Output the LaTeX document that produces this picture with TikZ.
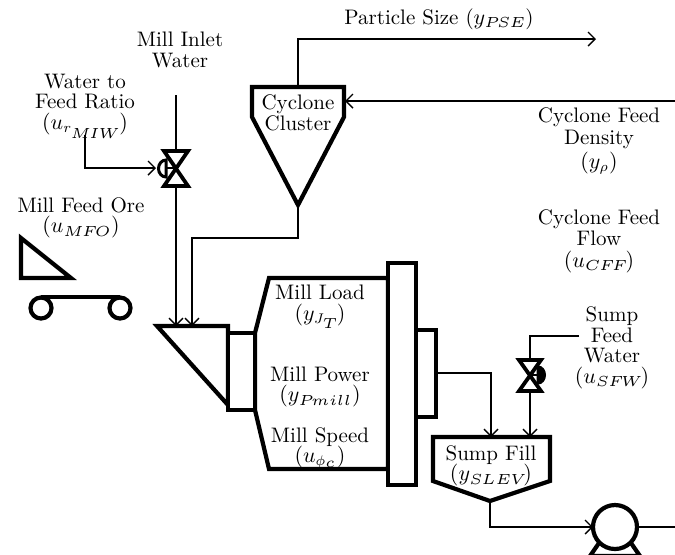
\documentclass[tikz,border=0pt]{standalone}
\usetikzlibrary{arrows.meta}
\font\subwide=cmmi5 at 7.3pt
\newcommand{\wsub}[1]{\hbox{\subwide #1}}
\tikzset{
  unit/.style={line width=2.1pt,line join=miter,fill=white},
  pipe/.style={line width=0.9pt},
  flow/.style={pipe,-{Straight Barb[length=3.5pt,width=7pt,line width=0.7pt]}},
  lab/.style={align=center,inner sep=0pt,font=\fontsize{10.5}{10.3}\selectfont}
}
\begin{document}
\begin{tikzpicture}[x=0.5pt,y=-0.5pt]
\useasboundingbox (0,0) rectangle (675,554);
\clip (0,0) rectangle (675,554);
% named points
\coordinate (cycTop) at (298,87);
\coordinate (cycTip) at (298,205);
\coordinate (cycFeed) at (345,101);
\coordinate (psEnd) at (596,39);
\coordinate (feedStart) at (675,101);
\coordinate (hopA) at (176,326);
\coordinate (hopB) at (192,326);
\coordinate (inlet) at (176,95);
\coordinate (v1) at (176,168);
\coordinate (v1act) at (156,168);
\coordinate (ratio) at (85,135);
\coordinate (v2) at (530,375);
\coordinate (sfw) at (579,336);
\coordinate (sumpA) at (491,437);
\coordinate (sumpB) at (530,437);
\coordinate (sumpTip) at (490,501);
\coordinate (drum) at (436,373);
\coordinate (pump) at (615,527);
\coordinate (pumpIn) at (593,527);
\coordinate (pumpOut) at (675,527);
% connectors
\draw[flow] (cycTop) |- (psEnd);
\draw[flow] (feedStart) -- (cycFeed);
\draw[flow] (cycTip) |- (245,238) -| (hopB);
\draw[flow] (inlet) -- (hopA);
\draw[flow] (ratio) |- (v1act);
\draw[flow] (drum) -| (sumpA);
\draw[pipe] (sfw) -| (v2);
\draw[flow] (v2) -- (sumpB);
\draw[flow] (sumpTip) |- (pumpIn);
\draw[pipe] (pump) -- (pumpOut);
% cyclone
\draw[unit] (252,87) -- (344,87) -- (344,117) -- (cycTip) -- (252,117) -- cycle;
\node[lab] (cyc) at (298,113) {Cyclone\\[0.5pt]Cluster};
% valve 1
\draw[line width=1.9pt,line join=miter,fill=white] (164,151) -- (188,151) -- (164,186) -- (188,186) -- cycle;
\draw[line width=1.3pt] (176,168) -- (164,168);
\draw[line width=1.5pt,fill=white] (166,160) arc[start angle=270,end angle=90,x radius=7.5,y radius=8.5] -- cycle;
% valve 2
\draw[line width=1.9pt,line join=miter,fill=white] (519,360) -- (541,360) -- (519,391) -- (541,391) -- cycle;
\draw[line width=1.3pt] (530,375) -- (538,375);
\draw[line width=1.5pt,fill=black] (538,367) arc[start angle=-90,end angle=90,x radius=6.5,y radius=8] -- cycle;
% conveyor
\draw[unit] (21,238) -- (21,278) -- (71,278) -- cycle;
\draw[line width=2.1pt] (41,297) -- (120,297);
\draw[unit] (41,308) circle[radius=10.5];
\draw[unit] (120,308) circle[radius=10.5];
% mill
\draw[unit] (255,333) -- (269,278) -- (388,278) -- (388,469) -- (269,469) -- (255,410) -- cycle;
\draw[unit] (157,326) -- (228,326) -- (228,405) -- cycle;
\draw[unit] (228,333) rectangle (255,410);
\draw[unit] (388,263) rectangle (416,485);
\draw[unit] (416,330) rectangle (436,417);
% sump
\draw[unit] (433,437) -- (550,437) -- (550,481) -- (sumpTip) -- (433,481) -- cycle;
% pump
\draw[unit] (599,543) -- (590,556) -- (640,556) -- (631,543);
\draw[unit] (pump) circle[radius=22];
% labels
\node[lab] (inletL) at (180,50) {Mill Inlet\\Water};
\node[lab] (ratioL) at (85,106) {Water to\\Feed Ratio\\$(u_{r_{\wsub{MIW}}})$};
\node[lab] (oreL) at (81,218) {Mill Feed Ore\\$(u_{\wsub{MFO}})$};
\node[lab,anchor=base] (psL) at (439,24) {Particle Size ($y_{\wsub{PSE}}$)};
\node[lab] (denL) at (599,141) {Cyclone Feed\\[0.5pt]Density\\[0.5pt]$(y_{\rho})$};
\node[lab] (flowL) at (599,241) {Cyclone Feed\\[0.5pt]Flow\\[0.5pt]$(u_{\wsub{CFF}})$};
\node[lab] (loadL) at (320,307) {Mill Load\\$(y_{J_{\wsub{T}}})$};
\node[lab] (powerL) at (320,387) {Mill Power\\$(y_{\wsub{Pmill}})$};
\node[lab] (speedL) at (320,448) {Mill Speed\\$(u_{\phi_{\wsub{c}}})$};
\node[lab] (sumpL) at (491,466) {Sump Fill\\$(y_{\wsub{SLEV}})$};
\node[lab] (sfwL) at (612,348) {Sump\\Feed\\Water\\$(u_{\wsub{SFW}})$};
\end{tikzpicture}
\end{document}
